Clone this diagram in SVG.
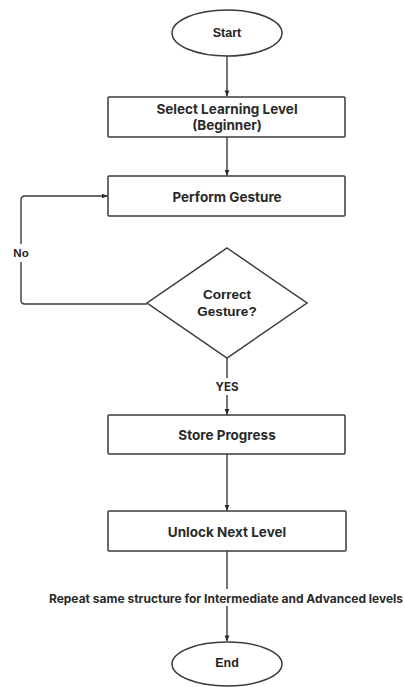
<svg xmlns="http://www.w3.org/2000/svg" width="405" height="687" viewBox="0 0 405 687">
  <style>
    .shape { fill: #ffffff; stroke: #3a3a3a; stroke-width: 1.5; }
    .link { fill: none; stroke: #3a3a3a; stroke-width: 1.4; }
    .arial { font-family: "Liberation Sans", Arial, sans-serif; font-weight: bold; fill: #222; text-anchor: middle; dominant-baseline: central; font-size: 12px; }
    .box { font-family: "Inter", "Liberation Sans", sans-serif; font-weight: 700; fill: #2a2a2a; text-anchor: middle; dominant-baseline: central; font-size: 13.5px; }
    .label { font-family: "Inter", "Liberation Sans", sans-serif; font-weight: 700; fill: #2a2a2a; text-anchor: middle; dominant-baseline: central; font-size: 12px; }
  </style>
  <defs>
    <marker id="arrow" viewBox="0 0 8 8" refX="7.5" refY="4" markerWidth="6" markerHeight="6" orient="auto" markerUnits="userSpaceOnUse">
      <path d="M0,0.8 L8,4 L0,7.2 Z" fill="#2a2a2a"/>
    </marker>
  </defs>
  <rect width="405" height="687" fill="#ffffff"/>

  <g id="connectors">
    <line class="link" x1="227" y1="56" x2="227" y2="96" marker-end="url(#arrow)"/>
    <line class="link" x1="227" y1="137" x2="227" y2="175.5" marker-end="url(#arrow)"/>
    <!-- "No" loop back to Perform Gesture -->
    <path class="link" d="M147,304 H25 Q21,304 21,300 V262"/>
    <path class="link" d="M21,244 V200 Q21,196 25,196 H107.5" marker-end="url(#arrow)"/>
    <line class="link" x1="227" y1="358" x2="227" y2="378"/>
    <line class="link" x1="227" y1="395" x2="227" y2="414.5" marker-end="url(#arrow)"/>
    <line class="link" x1="227" y1="454" x2="227" y2="510.5" marker-end="url(#arrow)"/>
    <line class="link" x1="227" y1="551" x2="227" y2="589"/>
    <line class="link" x1="227" y1="606" x2="227" y2="641" marker-end="url(#arrow)"/>
    <text class="arial" x="21" y="253" style="font-size:11.5px">No</text>
    <text class="label" x="227" y="387" style="font-size:11.5px">YES</text>
    <text class="label" x="226" y="598">Repeat same structure for Intermediate and Advanced levels</text>
  </g>

  <g id="start">
    <ellipse class="shape" cx="227" cy="33" rx="55" ry="23"/>
    <text class="arial" x="227" y="33" style="font-size:12.5px">Start</text>
  </g>

  <g id="select-level">
    <rect class="shape" x="108" y="97" width="237" height="40" rx="1"/>
    <text class="box" x="227" y="109">Select Learning Level</text>
    <text class="box" x="227" y="125">(Beginner)</text>
  </g>

  <g id="perform-gesture">
    <rect class="shape" x="108" y="176" width="237" height="40" rx="1"/>
    <text class="box" x="227" y="197">Perform Gesture</text>
  </g>

  <g id="correct-gesture">
    <polygon class="shape" points="227,248 307,303 227,358 147,303"/>
    <text class="arial" x="227" y="294" style="font-size:13.5px">Correct</text>
    <text class="arial" x="227" y="311" style="font-size:13.5px">Gesture?</text>
  </g>

  <g id="store-progress">
    <rect class="shape" x="108" y="415" width="237" height="39" rx="1"/>
    <text class="box" x="227" y="435">Store Progress</text>
  </g>

  <g id="unlock-level">
    <rect class="shape" x="108" y="511" width="238" height="40" rx="1"/>
    <text class="box" x="227" y="532">Unlock Next Level</text>
  </g>

  <g id="end">
    <ellipse class="shape" cx="227" cy="664" rx="55" ry="22"/>
    <text class="arial" x="227" y="663" style="font-size:12.5px">End</text>
  </g>
</svg>
